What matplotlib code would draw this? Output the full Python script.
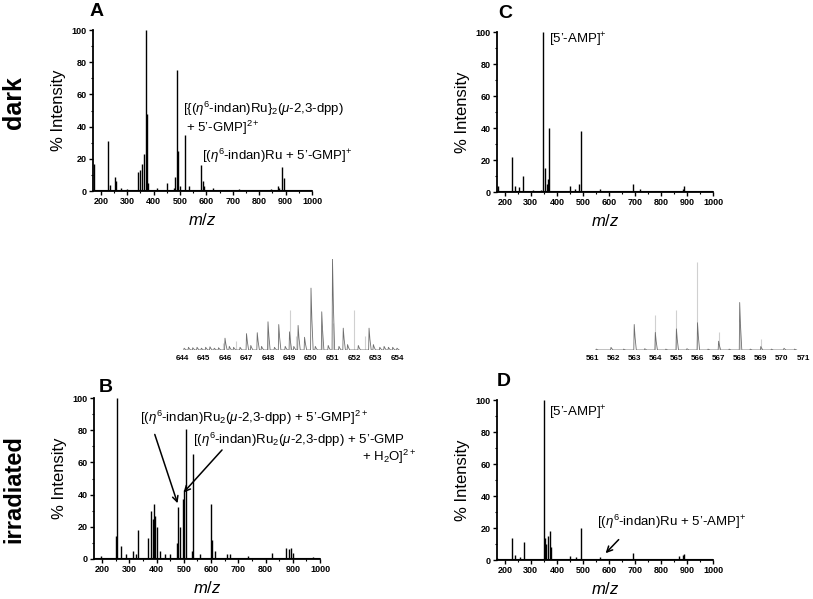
import matplotlib
matplotlib.use("Agg")
import matplotlib.pyplot as plt
from matplotlib.ticker import MultipleLocator

plt.rcParams['font.family'] = ['Liberation Sans', 'DejaVu Sans']
plt.rcParams['mathtext.fontset'] = 'custom'
plt.rcParams['mathtext.rm'] = 'Liberation Sans'
plt.rcParams['mathtext.it'] = 'Liberation Sans:italic'
plt.rcParams['mathtext.bf'] = 'Liberation Sans:bold'

W, H = 813, 599

# ---- spectra data (m/z, % intensity) ----
# A: dark, 5'-GMP
A_MZ = [173, 227, 235, 253, 258, 275, 300, 342, 350, 357, 364, 369, 373, 380,
        414, 451, 476, 482, 488, 491, 500, 517, 534, 578, 585, 592, 623, 725,
        846, 870, 875, 888, 892]
A_INT = [17, 31, 4, 9, 6, 2, 1.5, 12, 13, 17, 23, 100, 48, 5,
         2, 5, 2, 9, 75, 25, 3, 35, 3, 16, 6, 3, 2, 1.5,
         1.5, 3, 2, 15, 8]

# B: irradiated, 5'-GMP
B_MZ = [195, 250, 256, 268, 287, 314, 324, 333, 370, 378, 385, 390, 395, 400,
        412, 431, 449, 474, 480, 486, 496, 502, 508, 529, 535, 559, 598, 605,
        614, 657, 669, 737, 822, 875, 885, 893, 902, 975]
B_INT = [2, 14, 100, 8, 3, 5, 3, 18, 13, 30, 25, 34, 27, 20,
         5, 3, 3, 10, 32, 20, 37, 43, 81, 5, 65, 3, 34, 12,
         5, 3, 3, 2, 4, 7, 6, 7, 4, 1]

# C: dark, 5'-AMP
C_MZ = [173, 228, 239, 256, 271, 307, 339, 348, 353, 361, 366, 371, 451, 471,
        487, 492, 564, 693, 718, 885, 889]
C_INT = [4, 22, 4, 3, 10, 1, 1, 100, 15, 5, 8, 40, 4, 2,
         5, 38, 2, 5, 2, 2, 4]

# D: irradiated, 5'-AMP
D_MZ = [171, 229, 240, 257, 272, 349, 353, 360, 367, 374, 379, 452, 472, 491,
        567, 694, 869, 885, 889]
D_INT = [1, 14, 3, 2, 11, 100, 14, 10, 15, 18, 8, 2.5, 2, 20,
         2, 4.5, 2.5, 3, 4]

# ---- isotope pattern insets ----
GMP_EXP_MZ = [644.1, 644.3, 644.5, 644.7, 644.9, 645.1, 645.3, 645.5, 645.7,
              646.0, 646.2, 646.4, 646.7, 647.0, 647.2, 647.5, 647.7, 648.0,
              648.3, 648.5, 648.8, 649.0, 649.2, 649.4, 649.7, 650.0, 650.2,
              650.5, 650.8, 651.0, 651.3, 651.5, 651.7, 652.2, 652.7, 652.9,
              653.2, 653.4, 653.6, 653.8, 654.0]
GMP_EXP_INT = [2, 3, 2.5, 3, 2, 3, 3.5, 2, 2.5,
               13, 4, 3, 3, 18, 5, 19, 4, 31,
               3, 28, 4, 20, 4, 27, 14, 68, 4,
               42, 5, 100, 4, 24, 6, 5, 24, 6,
               3, 4, 3, 3, 2]
GMP_CALC_MZ = [645.9, 646.5, 648.0, 649.0, 649.3, 650.5, 651.0, 652.0, 652.5]
GMP_CALC_INT = [8, 10, 20, 44, 15, 22, 30, 44, 15]
GMP_TICKS = list(range(644, 655))

AMP_EXP_MZ = [561.2, 561.9, 562.5, 563.0, 563.5, 564.0, 564.5, 565.0, 565.5,
              566.0, 566.5, 567.0, 567.5, 568.0, 568.5, 569.0, 569.5, 570.1, 570.6]
AMP_EXP_INT = [1, 3, 1, 29, 1.5, 20, 1, 24, 1.5,
               31, 1, 10, 1, 54, 1, 4, 1, 2, 1]
AMP_CALC_MZ = [564.0, 565.0, 566.0, 567.0, 568.0, 569.0]
AMP_CALC_INT = [40, 46, 100, 21, 29, 13]
AMP_TICKS = list(range(561, 572))


def px_axes(x0, y0, x1, y1):
    # pixel box (top-left origin) -> figure fraction axes
    return fig.add_axes([x0 / W, 1 - y1 / H, (x1 - x0) / W, (y1 - y0) / H])


def spectrum(ax, mz, inten):
    ax.vlines(mz, 0, inten, color='black', lw=1.0)
    ax.axhline(0.4, color='black', lw=0.8)
    ax.set_xlim(170, 1000)
    ax.set_ylim(0, 100)
    for s in ['top', 'right']:
        ax.spines[s].set_visible(False)
    for s in ['left', 'bottom']:
        ax.spines[s].set_linewidth(1.3)
    ax.xaxis.set_major_locator(MultipleLocator(100))
    ax.xaxis.set_minor_locator(MultipleLocator(50))
    ax.yaxis.set_major_locator(MultipleLocator(20))
    ax.yaxis.set_minor_locator(MultipleLocator(10))
    ax.tick_params(which='major', length=3, width=1, labelsize=6.5, pad=1.5)
    ax.tick_params(which='minor', length=1.5, width=0.8)
    plt.setp(ax.get_xticklabels() + ax.get_yticklabels(), fontweight='bold')
    ax.set_ylabel('% Intensity', fontsize=12, labelpad=4)
    ax.set_xlabel(r'$m/z$', fontsize=12, labelpad=4)


def inset(ax, exp_mz, exp_int, calc_mz, calc_int, ticks):
    ax.vlines(calc_mz, 0, calc_int, color='#d0d0d0', lw=0.8)
    xs, ys = [], []
    for m, h in sorted(zip(exp_mz, exp_int)):
        xs += [m - 0.02, m, m + 0.04, m + 0.1]
        ys += [0, h, 0.5 * h, 0]
    ax.plot(xs, ys, color='#6e6e6e', lw=0.6)
    ax.set_xlim(ticks[0] - 0.2, ticks[-1] + 0.2)
    ax.set_ylim(0, 100)
    for s in ax.spines.values():
        s.set_visible(False)
    ax.set_yticks([])
    ax.set_xticks(ticks)
    ax.tick_params(axis='x', length=0, labelsize=5.8, pad=3.5)
    plt.setp(ax.get_xticklabels(), fontweight='bold')
    ax.patch.set_alpha(0)


fig = plt.figure(figsize=(W / 100, H / 100), dpi=100)

axA = px_axes(93, 30, 312, 191)
axC = px_axes(497, 32, 713, 192)
axB = px_axes(94, 398, 320, 559)
axD = px_axes(497, 400, 713, 560)

spectrum(axA, A_MZ, A_INT)
spectrum(axB, B_MZ, B_INT)
spectrum(axC, C_MZ, C_INT)
spectrum(axD, D_MZ, D_INT)

ins1 = px_axes(177.7, 259, 401.3, 350)
inset(ins1, GMP_EXP_MZ, GMP_EXP_INT, GMP_CALC_MZ, GMP_CALC_INT, GMP_TICKS)
ins2 = px_axes(587.8, 262, 807.2, 350)
inset(ins2, AMP_EXP_MZ, AMP_EXP_INT, AMP_CALC_MZ, AMP_CALC_INT, AMP_TICKS)

# annotations
fs = 9.5
axA.text(512, 51, r"[{($\eta^6$-indan)Ru}$_2$($\mu$-2,3-dpp)", fontsize=fs, va='center')
axA.text(521, 39, r"+ 5’-GMP]$^{2+}$", fontsize=fs, va='center')
axA.text(582, 22, r"[($\eta^6$-indan)Ru + 5’-GMP]$^{+}$", fontsize=fs, va='center')

axC.text(371, 95, r"[5’-AMP]$^{+}$", fontsize=fs, va='center')
axD.text(370, 92, r"[5’-AMP]$^{+}$", fontsize=fs, va='center')
axD.text(556, 24, r"[($\eta^6$-indan)Ru + 5’-AMP]$^{+}$", fontsize=fs, va='center')
axD.annotate('', xy=(580, 3), xytext=(645, 14),
             arrowprops=dict(arrowstyle='->', color='black', lw=1.1))

axB.text(339, 87.5, r"[($\eta^6$-indan)Ru$_2$($\mu$-2,3-dpp) + 5’-GMP]$^{2+}$",
         fontsize=fs, va='center')
axB.text(535, 74, r"[($\eta^6$-indan)Ru$_2$($\mu$-2,3-dpp) + 5’-GMP",
         fontsize=fs, va='center')
axB.text(1153, 63.5, r"+ H$_2$O]$^{2+}$", fontsize=fs, va='center')
axB.annotate('', xy=(480, 33), xytext=(390, 79),
             arrowprops=dict(arrowstyle='->', color='black', lw=1.1))
axB.annotate('', xy=(492, 40), xytext=(647, 69),
             arrowprops=dict(arrowstyle='->', color='black', lw=1.1))

# panel letters and row titles
for lbl, x, y in [('A', 97, 12), ('C', 505, 13), ('B', 106, 388), ('D', 504, 382)]:
    fig.text(x / W, 1 - y / H, lbl, fontsize=14, fontweight='bold',
             ha='center', va='center')
fig.text(14 / W, 1 - 103 / H, 'dark', fontsize=18, fontweight='bold',
         rotation=90, ha='center', va='center')
fig.text(14 / W, 1 - 489 / H, 'irradiated', fontsize=17, fontweight='bold',
         rotation=90, ha='center', va='center')

fig.savefig('out.png', dpi=100)
